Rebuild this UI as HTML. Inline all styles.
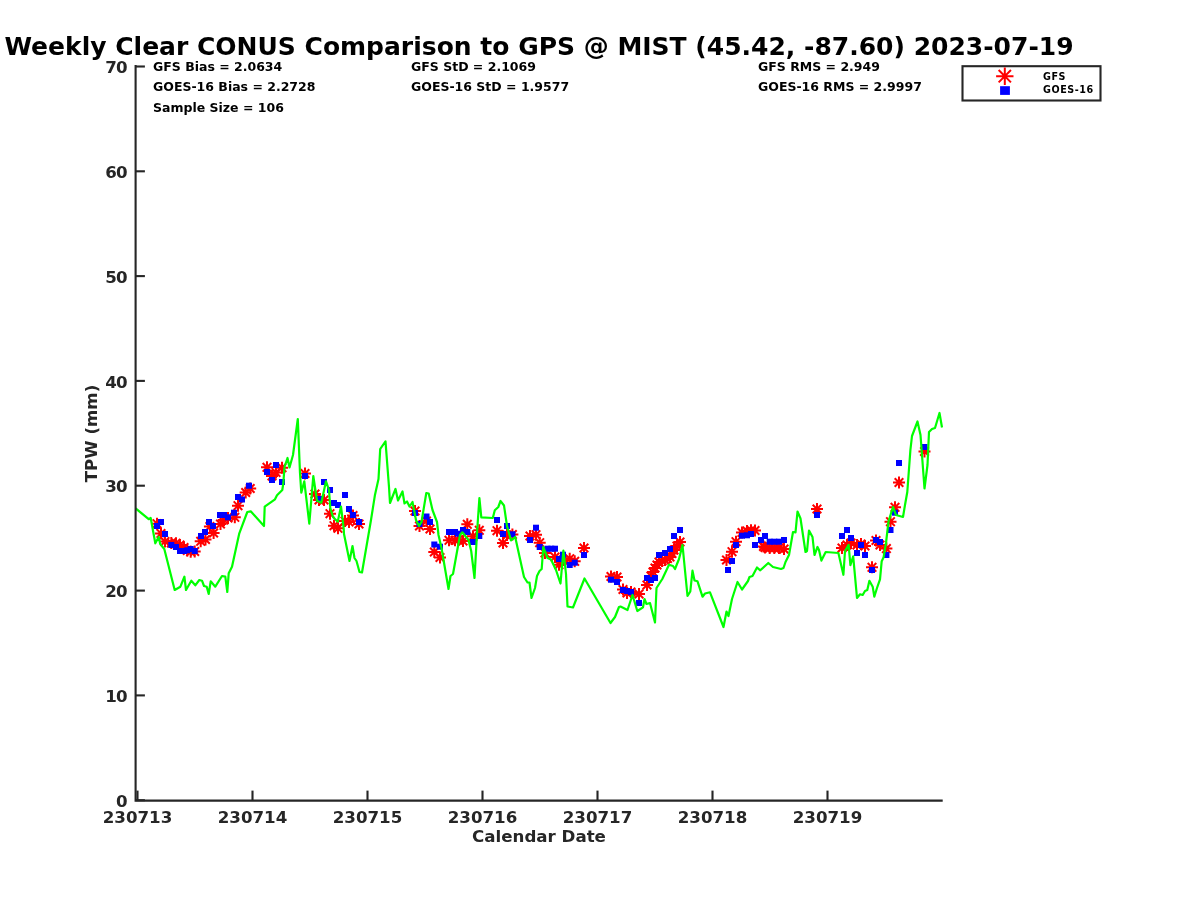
<!DOCTYPE html>
<html lang="en">
<head>
<meta charset="utf-8">
<title>Weekly Clear CONUS Comparison to GPS @ MIST</title>
<style>
html,body{margin:0;padding:0;background:#fff;}
body{width:1200px;height:900px;overflow:hidden;font-family:"DejaVu Sans","Liberation Sans",sans-serif;}
svg{display:block;}
text{font-family:"DejaVu Sans","Liberation Sans",sans-serif;font-weight:bold;}
</style>
</head>
<body>
<svg width="1200" height="900" viewBox="0 0 1200 900">
<defs>
<g id="a" stroke="#ff0000" stroke-width="2" stroke-linecap="butt" fill="none">
<path d="M-6 0H6M0 -6V6M-4.3 -4.3L4.3 4.3M-4.3 4.3L4.3 -4.3"/>
</g>
<g id="al" stroke="#ff0000" stroke-width="2" stroke-linecap="butt" fill="none">
<path d="M-8.7 0H8.7M0 -8.7V8.7M-6.15 -6.15L6.15 6.15M-6.15 6.15L6.15 -6.15"/>
</g>
</defs>
<rect width="1200" height="900" fill="#ffffff"/>
<text x="539" y="55.3" font-size="25" text-anchor="middle" fill="#000000">Weekly Clear CONUS Comparison to GPS @ MIST (45.42, -87.60) 2023-07-19</text>
<g font-size="12.5" fill="#000000">
<text x="153" y="70.5">GFS Bias = 2.0634</text>
<text x="153" y="91.4">GOES-16 Bias = 2.2728</text>
<text x="153" y="112.4">Sample Size = 106</text>
<text x="411" y="70.5">GFS StD = 2.1069</text>
<text x="411" y="91.4">GOES-16 StD = 1.9577</text>
<text x="758" y="70.5">GFS RMS = 2.949</text>
<text x="758" y="91.4">GOES-16 RMS = 2.9997</text>
</g>
<g><use href="#a" x="157" y="523.7"/><use href="#a" x="161" y="533.5"/><use href="#a" x="165" y="541.5"/><use href="#a" x="171.3" y="543"/><use href="#a" x="176" y="543.2"/><use href="#a" x="180" y="545"/><use href="#a" x="184" y="547.5"/><use href="#a" x="187.3" y="550.5"/><use href="#a" x="190.7" y="551.7"/><use href="#a" x="194.7" y="551.5"/><use href="#a" x="200.7" y="541.3"/><use href="#a" x="205.5" y="539.5"/><use href="#a" x="209.9" y="526.5"/><use href="#a" x="213.6" y="533"/><use href="#a" x="220.5" y="524"/><use href="#a" x="224" y="520"/><use href="#a" x="228" y="518"/><use href="#a" x="234.8" y="517.3"/><use href="#a" x="238" y="505.7"/><use href="#a" x="245.7" y="492.5"/><use href="#a" x="250.2" y="488.5"/><use href="#a" x="267" y="467.3"/><use href="#a" x="272" y="476"/><use href="#a" x="276" y="472.5"/><use href="#a" x="282" y="467.7"/><use href="#a" x="305" y="473.5"/><use href="#a" x="315" y="494"/><use href="#a" x="319" y="500"/><use href="#a" x="324" y="500"/><use href="#a" x="330" y="513.7"/><use href="#a" x="334" y="525.7"/><use href="#a" x="338" y="528.3"/><use href="#a" x="345" y="521"/><use href="#a" x="349" y="522"/><use href="#a" x="353" y="515.5"/><use href="#a" x="359" y="524"/><use href="#a" x="415" y="511"/><use href="#a" x="419.5" y="526"/><use href="#a" x="426.5" y="521"/><use href="#a" x="430" y="529"/><use href="#a" x="434.3" y="552"/><use href="#a" x="440" y="557.5"/><use href="#a" x="449" y="540.3"/><use href="#a" x="455" y="540.3"/><use href="#a" x="458" y="540"/><use href="#a" x="463" y="541"/><use href="#a" x="467.3" y="524.3"/><use href="#a" x="473" y="536.3"/><use href="#a" x="479.3" y="530.3"/><use href="#a" x="497" y="530.7"/><use href="#a" x="503" y="543"/><use href="#a" x="507" y="535"/><use href="#a" x="512.4" y="534.5"/><use href="#a" x="530" y="536"/><use href="#a" x="536" y="534.7"/><use href="#a" x="539.7" y="542.7"/><use href="#a" x="545" y="553"/><use href="#a" x="555" y="557"/><use href="#a" x="559" y="564.7"/><use href="#a" x="563" y="560"/><use href="#a" x="569.7" y="558.7"/><use href="#a" x="574.7" y="561.3"/><use href="#a" x="584" y="548"/><use href="#a" x="611" y="576.5"/><use href="#a" x="617" y="577"/><use href="#a" x="623" y="589.5"/><use href="#a" x="627" y="593"/><use href="#a" x="631" y="592"/><use href="#a" x="639" y="594"/><use href="#a" x="647" y="585"/><use href="#a" x="651" y="576"/><use href="#a" x="655" y="568"/><use href="#a" x="659" y="562"/><use href="#a" x="665" y="560"/><use href="#a" x="670" y="557"/><use href="#a" x="674" y="550"/><use href="#a" x="680" y="542"/><use href="#a" x="653" y="572"/><use href="#a" x="657" y="565"/><use href="#a" x="662" y="561"/><use href="#a" x="667.5" y="558.5"/><use href="#a" x="672" y="553.5"/><use href="#a" x="677" y="546"/><use href="#a" x="726.5" y="560"/><use href="#a" x="732" y="551.7"/><use href="#a" x="736" y="541.7"/><use href="#a" x="742" y="532.5"/><use href="#a" x="747" y="531"/><use href="#a" x="751" y="530.3"/><use href="#a" x="755" y="530.5"/><use href="#a" x="763.5" y="546.5"/><use href="#a" x="765" y="547.5"/><use href="#a" x="769.7" y="548"/><use href="#a" x="774.3" y="548"/><use href="#a" x="779" y="548"/><use href="#a" x="784" y="549"/><use href="#a" x="817" y="509"/><use href="#a" x="842" y="548"/><use href="#a" x="847" y="545"/><use href="#a" x="851" y="543"/><use href="#a" x="857" y="545"/><use href="#a" x="861" y="544"/><use href="#a" x="865" y="546"/><use href="#a" x="872" y="567.3"/><use href="#a" x="876" y="540.5"/><use href="#a" x="880" y="545"/><use href="#a" x="886.4" y="548.6"/><use href="#a" x="890.5" y="521.7"/><use href="#a" x="895" y="507.3"/><use href="#a" x="899" y="482.5"/><use href="#a" x="924.5" y="451.5"/></g>
<g fill="#0000ff"><rect x="154.0" y="523.0" width="6" height="6"/><rect x="158.0" y="519.0" width="6" height="6"/><rect x="162.0" y="531.0" width="6" height="6"/><rect x="168.3" y="542.0" width="6" height="6"/><rect x="173.0" y="544.0" width="6" height="6"/><rect x="177.0" y="548.0" width="6" height="6"/><rect x="181.0" y="548.0" width="6" height="6"/><rect x="184.3" y="547.3" width="6" height="6"/><rect x="187.7" y="546.0" width="6" height="6"/><rect x="191.7" y="548.0" width="6" height="6"/><rect x="198.0" y="533.0" width="6" height="6"/><rect x="202.0" y="529.0" width="6" height="6"/><rect x="206.0" y="519.0" width="6" height="6"/><rect x="210.0" y="523.0" width="6" height="6"/><rect x="217.0" y="512.0" width="6" height="6"/><rect x="221.0" y="512.0" width="6" height="6"/><rect x="225.0" y="514.3" width="6" height="6"/><rect x="231.0" y="509.7" width="6" height="6"/><rect x="235.0" y="494.0" width="6" height="6"/><rect x="239.0" y="496.5" width="6" height="6"/><rect x="246.0" y="482.7" width="6" height="6"/><rect x="264.0" y="469.0" width="6" height="6"/><rect x="269.0" y="477.0" width="6" height="6"/><rect x="273.0" y="462.0" width="6" height="6"/><rect x="279.0" y="479.0" width="6" height="6"/><rect x="302.0" y="473.0" width="6" height="6"/><rect x="316.0" y="496.0" width="6" height="6"/><rect x="321.0" y="479.0" width="6" height="6"/><rect x="327.0" y="487.0" width="6" height="6"/><rect x="331.0" y="500.0" width="6" height="6"/><rect x="335.0" y="502.0" width="6" height="6"/><rect x="342.0" y="492.0" width="6" height="6"/><rect x="346.0" y="506.0" width="6" height="6"/><rect x="350.0" y="512.0" width="6" height="6"/><rect x="356.0" y="519.0" width="6" height="6"/><rect x="412.0" y="510.0" width="6" height="6"/><rect x="416.5" y="521.0" width="6" height="6"/><rect x="423.5" y="513.5" width="6" height="6"/><rect x="427.0" y="519.0" width="6" height="6"/><rect x="431.3" y="541.5" width="6" height="6"/><rect x="437.0" y="543.7" width="6" height="6"/><rect x="446.0" y="529.0" width="6" height="6"/><rect x="452.0" y="529.0" width="6" height="6"/><rect x="455.0" y="530.7" width="6" height="6"/><rect x="460.0" y="527.0" width="6" height="6"/><rect x="464.3" y="529.0" width="6" height="6"/><rect x="470.0" y="539.0" width="6" height="6"/><rect x="476.3" y="533.0" width="6" height="6"/><rect x="494.0" y="517.0" width="6" height="6"/><rect x="500.0" y="531.0" width="6" height="6"/><rect x="504.0" y="523.0" width="6" height="6"/><rect x="509.4" y="531.3" width="6" height="6"/><rect x="527.0" y="537.0" width="6" height="6"/><rect x="533.0" y="524.7" width="6" height="6"/><rect x="536.7" y="544.0" width="6" height="6"/><rect x="544.5" y="545.7" width="6" height="6"/><rect x="548.3" y="545.7" width="6" height="6"/><rect x="552.0" y="545.7" width="6" height="6"/><rect x="556.0" y="556.0" width="6" height="6"/><rect x="560.0" y="551.7" width="6" height="6"/><rect x="566.7" y="562.0" width="6" height="6"/><rect x="571.7" y="559.7" width="6" height="6"/><rect x="581.0" y="552.0" width="6" height="6"/><rect x="608.0" y="576.7" width="6" height="6"/><rect x="614.0" y="579.0" width="6" height="6"/><rect x="620.0" y="587.0" width="6" height="6"/><rect x="624.0" y="588.0" width="6" height="6"/><rect x="628.0" y="589.0" width="6" height="6"/><rect x="636.0" y="600.0" width="6" height="6"/><rect x="644.0" y="575.0" width="6" height="6"/><rect x="648.0" y="577.0" width="6" height="6"/><rect x="652.0" y="575.0" width="6" height="6"/><rect x="656.0" y="552.0" width="6" height="6"/><rect x="662.0" y="550.0" width="6" height="6"/><rect x="667.0" y="546.0" width="6" height="6"/><rect x="671.0" y="533.0" width="6" height="6"/><rect x="677.0" y="527.0" width="6" height="6"/><rect x="725.0" y="567.0" width="6" height="6"/><rect x="729.0" y="558.0" width="6" height="6"/><rect x="733.0" y="542.0" width="6" height="6"/><rect x="739.0" y="532.7" width="6" height="6"/><rect x="744.0" y="532.3" width="6" height="6"/><rect x="748.0" y="531.0" width="6" height="6"/><rect x="752.0" y="542.0" width="6" height="6"/><rect x="758.0" y="537.0" width="6" height="6"/><rect x="762.0" y="533.0" width="6" height="6"/><rect x="766.7" y="538.7" width="6" height="6"/><rect x="771.3" y="538.7" width="6" height="6"/><rect x="776.0" y="538.7" width="6" height="6"/><rect x="781.0" y="537.0" width="6" height="6"/><rect x="814.0" y="512.0" width="6" height="6"/><rect x="839.0" y="533.0" width="6" height="6"/><rect x="844.0" y="527.0" width="6" height="6"/><rect x="848.0" y="535.0" width="6" height="6"/><rect x="854.0" y="550.0" width="6" height="6"/><rect x="858.0" y="542.0" width="6" height="6"/><rect x="862.0" y="552.0" width="6" height="6"/><rect x="869.0" y="567.0" width="6" height="6"/><rect x="873.0" y="537.0" width="6" height="6"/><rect x="877.0" y="539.0" width="6" height="6"/><rect x="883.4" y="552.0" width="6" height="6"/><rect x="887.5" y="527.0" width="6" height="6"/><rect x="892.0" y="509.7" width="6" height="6"/><rect x="896.0" y="460.0" width="6" height="6"/><rect x="921.5" y="444.0" width="6" height="6"/></g>
<polyline fill="none" stroke="#00ff00" stroke-width="2.2" stroke-linejoin="round" points="135.6,508.3 148.7,519.2 150.7,518 155.3,543.3 158.7,537 160.2,544 164.3,549 174.7,590 180.4,586.7 184.4,576.7 186,590 191.3,580.7 195.3,585.3 199.3,580 202,580.7 204,586 206.7,586.7 208.7,594 210.7,581.3 215.3,586.7 222,576 225.3,576.7 227.3,592 228.7,573.3 232,566.7 239.3,533.3 247.3,512 250.7,511.3 264,526 264.7,506.7 275,499.3 277,495.3 282.3,490 283.3,483.3 284.5,467 287.5,458 289.5,467.5 293,455 297.8,419 300,473 301.3,492.7 304.3,481.3 309.3,523.7 313.3,476 317,500.7 321.3,502.7 326,481.3 329,490 330.3,508 333,517 337.7,521.7 341,506.5 343.7,528.3 344,534 349.5,561 352.5,546 354.5,558 356.5,561 359.5,572 362,572.5 371,520 375,494.7 378.5,479 380.2,449 385.5,441.3 389,487 390,503 395.5,489 398,500.5 402.5,491.5 404.5,503.5 407,501.5 409.5,506.5 412.5,502 416,520 419,526 421.5,522 426.3,493 428.7,493.5 432.5,510 437,522 438.5,535 441.5,548 448.5,589 450.5,576 453,574 460,535 462.3,532.3 468.5,540 471.2,551 474.5,578 477.2,530 479.4,498 481.3,517.3 492.8,518 494.8,510.3 498.3,507 500.5,501 504,505.5 507,526 511,540.5 515.2,537 524,577 527.5,582.5 529.5,582.5 531.5,598 535,588 537,576 539.5,571 541.7,569 543.3,547 547.5,558 551,559.5 556,570 560.5,583.5 563.4,550.5 566,574 567.5,606.5 573,607.5 584.5,578.5 610.5,623 615,617 619,607 620.5,606.5 627.5,610 632.5,595 637.3,611 643,607.3 644.5,599 646.5,604 650,603 655,622.5 656.5,588 662.3,579 669,564.7 673,566 675,569 679,559 682.5,545 687.5,596 690.3,591.5 692.5,570.7 694.5,580.5 697.5,581.3 702.5,596.7 705,593.5 710,592.3 723.5,627 726.5,611.5 728.5,616 732,599 737.5,582 742,589.5 748,581 749.5,577 752.5,576 757,567.5 760.3,570.3 768.3,563 773,567 781,569 783.5,568 785.5,562 789,555 793,532 795.5,532.3 797.5,511.5 800.5,518.5 805.5,552 807,551 809,530.5 812.5,537 814.5,555 817.5,547 819,550 821.4,560.6 825.7,552 838.4,553 843.4,574.8 845,551.2 848.6,544.8 850.4,565.2 853.2,556.4 857,598 860,594.3 862.7,595 865,591 867.3,590 869.4,580.8 872.7,586.7 874.3,596.7 877,588 880,579.3 881.7,561.2 883.6,557.2 886,543 888.5,521.5 893,507 896,515 903,517 905,505 907.3,492 910.4,450 912,436 917.5,421.5 920.5,435 924.5,488.5 927.5,465 929,432 932,429 935,428 939.5,413 942,427.5"/>
<g stroke="#262626" stroke-width="2.1" fill="none">
<path d="M135.6 65V800.6H942.7" stroke-linecap="butt" stroke-linejoin="miter"/>
<line x1="135.6" y1="800.2" x2="144.9" y2="800.2"/><line x1="135.6" y1="695.4" x2="144.9" y2="695.4"/><line x1="135.6" y1="590.6" x2="144.9" y2="590.6"/><line x1="135.6" y1="485.7" x2="144.9" y2="485.7"/><line x1="135.6" y1="380.9" x2="144.9" y2="380.9"/><line x1="135.6" y1="276.1" x2="144.9" y2="276.1"/><line x1="135.6" y1="171.3" x2="144.9" y2="171.3"/><line x1="135.6" y1="66.5" x2="144.9" y2="66.5"/>
<line x1="137.5" y1="800.6" x2="137.5" y2="790.6"/><line x1="252.5" y1="800.6" x2="252.5" y2="790.6"/><line x1="367.5" y1="800.6" x2="367.5" y2="790.6"/><line x1="482.5" y1="800.6" x2="482.5" y2="790.6"/><line x1="597.5" y1="800.6" x2="597.5" y2="790.6"/><line x1="712.5" y1="800.6" x2="712.5" y2="790.6"/><line x1="827.5" y1="800.6" x2="827.5" y2="790.6"/>
</g>
<g font-size="16.67" fill="#262626">
<text x="126.9" y="806.9" text-anchor="end" letter-spacing="-0.8">0</text><text x="126.9" y="702.1" text-anchor="end" letter-spacing="-0.8">10</text><text x="126.9" y="597.3" text-anchor="end" letter-spacing="-0.8">20</text><text x="126.9" y="492.4" text-anchor="end" letter-spacing="-0.8">30</text><text x="126.9" y="387.6" text-anchor="end" letter-spacing="-0.8">40</text><text x="126.9" y="282.8" text-anchor="end" letter-spacing="-0.8">50</text><text x="126.9" y="178.0" text-anchor="end" letter-spacing="-0.8">60</text><text x="126.9" y="73.2" text-anchor="end" letter-spacing="-0.8">70</text>
<text x="137.5" y="823.2" text-anchor="middle">230713</text><text x="252.5" y="823.2" text-anchor="middle">230714</text><text x="367.5" y="823.2" text-anchor="middle">230715</text><text x="482.5" y="823.2" text-anchor="middle">230716</text><text x="597.5" y="823.2" text-anchor="middle">230717</text><text x="712.5" y="823.2" text-anchor="middle">230718</text><text x="827.5" y="823.2" text-anchor="middle">230719</text>
<text x="539" y="842.3" text-anchor="middle">Calendar Date</text>
<text transform="translate(97,433.5) rotate(-90)" text-anchor="middle">TPW (mm)</text>
</g>
<g>
<rect x="962.5" y="66.2" width="138" height="34.3" fill="#ffffff" stroke="#262626" stroke-width="2.1"/>
<use href="#al" x="1004.8" y="76.2"/>
<rect x="1000.1" y="86.2" width="9.8" height="8.7" fill="#0000ff"/>
<g font-size="9.6" letter-spacing="0.55" fill="#000000">
<text x="1043" y="80.3">GFS</text>
<text x="1043" y="93.3">GOES-16</text>
</g>
</g>
</svg>
</body>
</html>
